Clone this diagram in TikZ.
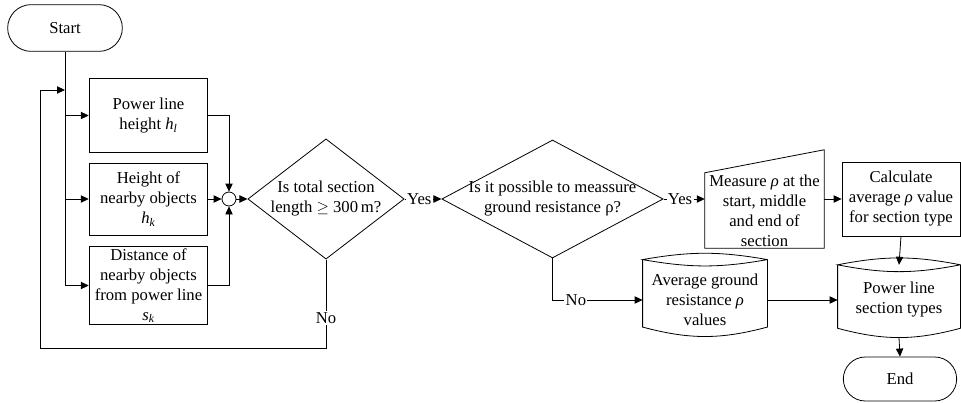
\documentclass[tikz,border=0pt]{standalone}
\usepackage{fontspec}
\setmainfont{Liberation Serif}
\usetikzlibrary{shapes.geometric,shapes.misc,arrows.meta,calc}

\begin{document}
\begin{tikzpicture}[
    x=0.75pt, y=-0.75pt,                 % pixel grid, y runs down
    font=\fontsize{12.5}{15}\selectfont,
    line width=0.6pt,
    >={Triangle[length=6pt,width=5.5pt]},
    every node/.style={align=center, inner sep=1pt},
    terminal/.style={draw, rounded rectangle, minimum width=88pt, minimum height=35pt},
    process/.style={draw, rectangle, minimum width=89pt},
    decision/.style={draw, diamond, inner sep=0pt, minimum height=88.5pt},
    junction/.style={draw, circle, minimum size=10.5pt, inner sep=0pt},
    store/.style={rectangle, minimum height=48pt},
    lbl/.style={fill=white, inner sep=1pt}
]
\useasboundingbox (0,0) rectangle (961,403);

% left part: inputs
\node[terminal] (start) at (65,28) {Start};
\node[process, minimum height=56pt] (hline) at (148.5,115.5) {Power line\\height \textit{h\textsubscript{l}}};
\node[process, minimum height=54pt] (hobj) at (148.5,199) {Height of\\nearby objects\\\textit{h\textsubscript{k}}};
\node[process, minimum height=58pt, inner sep=0pt] (dobj) at (148.5,285.5) {Distance of\\nearby objects\\from power line\\\textit{s\textsubscript{k}}};
\node[junction] (sum) at (229,199) {};

% decisions
\node[decision, aspect=1.3, minimum width=115.5pt] (len) at (326,199) {Is total section\\length $\geq$ 300\,m?};
\node[decision, aspect=1.87, inner xsep=-6pt, minimum width=166pt] (canmeas) at (552.5,199) {Is it possible to meassure\\ground resistance ρ?};

% right part
\node[minimum width=89pt, minimum height=56pt, inner sep=0pt] (measure) at (764.5,210.5) {Measure \textit{ρ} at the\\start, middle\\and end of\\section};
\draw (measure.south west) -- (measure.south east) -- ([yshift=17.25pt]measure.north east) -- (measure.north west) -- cycle;
\node[process, minimum height=55.5pt, minimum width=88.5pt] (avg) at (901,199) {Calculate\\average \textit{ρ} value\\for section type};

\node[store, minimum width=93pt, minimum height=50pt] (gndres) at (705,300) {Average ground\\resistance \textit{ρ}\\values};
\draw ([yshift=5pt]gndres.north west) -- ([yshift=5pt]gndres.south west)
    to[bend right=15] ([yshift=5pt]gndres.south east) -- ([yshift=5pt]gndres.north east)
    to[bend right=10] ([yshift=5pt]gndres.north west)
    to[bend right=10] ([yshift=5pt]gndres.north east);
\node[store, minimum width=91.5pt, minimum height=47pt] (types) at (899,300) {Power line\\section types};
\draw ([yshift=2.6pt]types.north west) -- ([yshift=2.6pt]types.south west)
    to[bend right=15] ([yshift=2.6pt]types.south east) -- ([yshift=2.6pt]types.north east)
    to[bend right=11] ([yshift=2.6pt]types.north west)
    to[bend right=11] ([yshift=2.6pt]types.north east);
\node[terminal, minimum width=87pt, minimum height=33pt] (end) at (900,379) {End};

\coordinate (loopbl) at (40,348);
\coordinate (loopin) at (65,90);

% connectors
\draw[->] (start.south) |- (dobj.west);
\draw[->] (start.south |- hline.west) -- (hline.west);
\draw[->] (start.south |- hobj.west) -- (hobj.west);
\draw[->] (hline.east) -| (sum.north);
\draw[->] (hobj.east) -- (sum.west);
\draw[->] (dobj.east) -| (sum.south);
\draw[->] (sum.east) -- (len.west);
\draw[->] (len.south) -- node[lbl, pos=0.66] {No} (len.south |- loopbl) -- (loopbl) |- (loopin);
\draw[->] (len.east) -- node[lbl, pos=0.4] {Yes} (canmeas.west);
\draw[->] (canmeas.east) -- node[lbl, pos=0.4] {Yes} (canmeas.east -| measure.west);
\draw[->] (canmeas.south) |- node[lbl, pos=0.63] {No} (gndres.west);
\draw[->] (measure.east |- avg.west) -- (avg.west);
\draw[->] (avg.south) -- ([yshift=2.6pt]types.north);
\draw[->] (gndres.east) -- (types.west);
\draw[->] ($(types.south)+(0,6)$) -- (end.north);

\end{tikzpicture}
\end{document}
